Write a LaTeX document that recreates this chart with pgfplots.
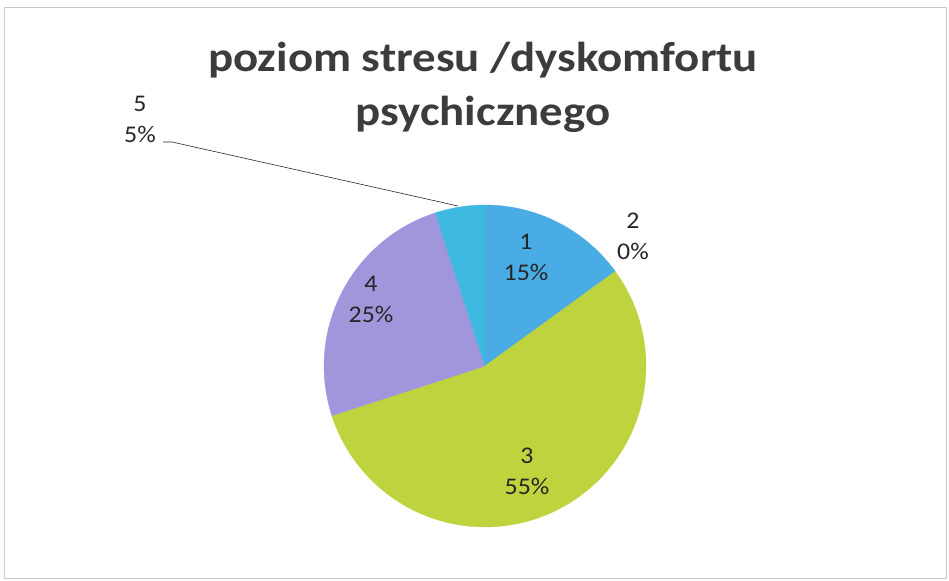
\documentclass[border=0pt]{standalone}
\usepackage{pgfplots}
\pgfplotsset{compat=1.18}
\usepackage{fontspec}
\setmainfont{Carlito}
\definecolor{c1}{RGB}{74,172,228}
\definecolor{c2}{RGB}{226,90,80}
\definecolor{c3}{RGB}{190,211,62}
\definecolor{c4}{RGB}{160,150,220}
\definecolor{c5}{RGB}{62,186,226}
\definecolor{titlec}{RGB}{60,60,60}
\definecolor{framec}{RGB}{200,200,200}
% percentages of the five categories
\def\pA{15}\def\pB{0}\def\pC{55}\def\pD{25}\def\pE{5}
\begin{document}
\begin{tikzpicture}
\pgfmathsetmacro{\aA}{90}
\pgfmathsetmacro{\aB}{\aA-3.6*\pA}
\pgfmathsetmacro{\aC}{\aB-3.6*\pB}
\pgfmathsetmacro{\aD}{\aC-3.6*\pC}
\pgfmathsetmacro{\aE}{\aD-3.6*\pD}
\pgfmathsetmacro{\aF}{\aE-3.6*\pE}
\begin{axis}[
  at={(0,0)}, anchor=south west,
  scale only axis, width=949bp, height=581bp,
  xmin=0, xmax=949, ymin=0, ymax=581,
  hide axis, clip=false,
  every axis plot/.append style={line join=round},
]
% frame
\addplot[framec, line width=0.8pt] coordinates {(4,574) (946,574) (946,3) (4,3) (4,574)};
% wedges
\addplot[fill=c1, draw=c1, line width=0.3pt, domain=\aB:\aA, samples=60, variable=\t] ({485+161*cos(\t)},{215+161*sin(\t)}) -- (axis cs:485,215) -- cycle;
\addplot[fill=c3, draw=c3, line width=0.3pt, domain=\aD:\aC, samples=120, variable=\t] ({485+161*cos(\t)},{215+161*sin(\t)}) -- (axis cs:485,215) -- cycle;
\addplot[fill=c4, draw=c4, line width=0.3pt, domain=\aE:\aD, samples=60, variable=\t] ({485+161*cos(\t)},{215+161*sin(\t)}) -- (axis cs:485,215) -- cycle;
\addplot[fill=c5, draw=c5, line width=0.3pt, domain=\aF:\aE, samples=30, variable=\t] ({485+161*cos(\t)},{215+161*sin(\t)}) -- (axis cs:485,215) -- cycle;
% leader line for slice 5
\addplot[black!85, line width=0.6pt] coordinates {(163,439) (172,439) (458,375)};
% title
\node[titlec, font=\fontsize{42}{50}\selectfont\bfseries, anchor=base, xscale=1.12] at (axis cs:483,509) {poziom stresu /dyskomfortu};
\node[titlec, font=\fontsize{42}{50}\selectfont\bfseries, anchor=base, xscale=1.12] at (axis cs:483,455) {psychicznego};
% data labels
\begin{scope}[every node/.style={font=\fontsize{24}{29}\selectfont, text=black!85, align=center, xscale=1.08}]
\node at (axis cs:526,324) {1\\[2pt]15\%};
\node at (axis cs:633,345) {2\\[2pt]0\%};
\node at (axis cs:527,110) {3\\[2pt]55\%};
\node at (axis cs:371,282) {4\\[2pt]25\%};
\node at (axis cs:140,462) {5\\[2pt]5\%};
\end{scope}
\end{axis}
\pgfresetboundingbox
\path[use as bounding box] (0,0) rectangle (949bp,581bp);
\end{tikzpicture}
\end{document}
